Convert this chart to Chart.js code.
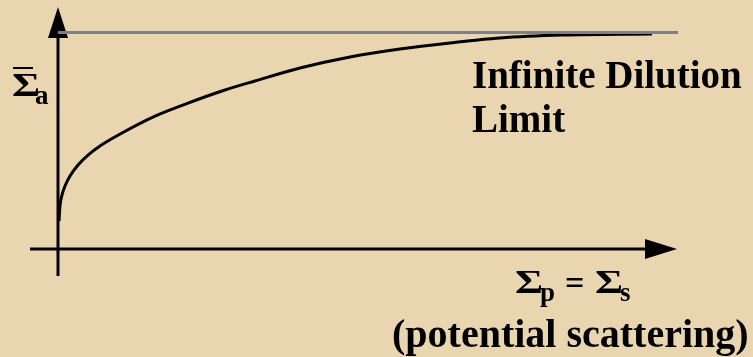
<!DOCTYPE html>
<html>
<head>
<meta charset="utf-8">
<script src="https://cdn.jsdelivr.net/npm/chart.js@4.4.0/dist/chart.umd.min.js"></script>
<style>
  html, body { margin: 0; padding: 0; background: #e9d6b0; }
  canvas { display: block; }
</style>
</head>
<body>
<canvas id="chart" width="753" height="357"></canvas>
<script>
// potential scattering (x) vs effective absorption (y)
const sigmaP = [0.016, 0.032, 0.065, 0.113, 0.194, 0.323, 0.484, 0.677, 1.032, 1.565, 2.097, 2.645, 3.177, 3.903, 4.710, 5.516, 6.323, 7.129, 8.145, 9.581];
const sigmaA = [0.129, 0.199, 0.250, 0.291, 0.337, 0.388, 0.434, 0.476, 0.536, 0.614, 0.674, 0.730, 0.776, 0.836, 0.887, 0.924, 0.952, 0.975, 0.988, 0.993];

// infinite dilution limit
const limitX = [0, 10];
const limitY = [1, 1];

const BG = '#e9d6b0';
const FONT = '"Liberation Serif", "Times New Roman", serif';

function toPoints(xs, ys) {
  return xs.map((x, i) => ({ x: x, y: ys[i] }));
}

// the Sigma of the original is wider than Liberation's, stretch it a bit
function wideText(ctx, text, x, y, sx) {
  ctx.save();
  ctx.translate(x, y);
  ctx.scale(sx, 1);
  ctx.fillText(text, 0, 0);
  ctx.restore();
}

const background = {
  id: 'background',
  beforeDraw(chart) {
    const ctx = chart.ctx;
    ctx.save();
    ctx.fillStyle = BG;
    ctx.fillRect(0, 0, chart.width, chart.height);
    ctx.restore();
  }
};

// axis lines with arrow heads, placed on the scales' zero
const arrowAxes = {
  id: 'arrowAxes',
  beforeDatasetsDraw(chart) {
    const ctx = chart.ctx;
    const x0 = chart.scales.x.getPixelForValue(0);
    const y0 = chart.scales.y.getPixelForValue(0);
    ctx.save();
    ctx.strokeStyle = '#000';
    ctx.fillStyle = '#000';
    ctx.lineWidth = 3;

    // vertical
    ctx.beginPath();
    ctx.moveTo(x0, y0 + 27);
    ctx.lineTo(x0, 30);
    ctx.stroke();
    ctx.beginPath();
    ctx.moveTo(x0, 7);
    ctx.lineTo(x0 - 10, 38);
    ctx.lineTo(x0 + 10, 38);
    ctx.closePath();
    ctx.fill();

    // horizontal
    ctx.beginPath();
    ctx.moveTo(30, y0);
    ctx.lineTo(650, y0);
    ctx.stroke();
    ctx.beginPath();
    ctx.moveTo(677, y0);
    ctx.lineTo(645, y0 - 10);
    ctx.lineTo(645, y0 + 10);
    ctx.closePath();
    ctx.fill();
    ctx.restore();
  }
};

const labels = {
  id: 'labels',
  afterDraw(chart) {
    const ctx = chart.ctx;
    ctx.save();
    ctx.fillStyle = '#000';
    ctx.textAlign = 'left';
    ctx.textBaseline = 'alphabetic';

    // y label: Sigma bar, subscript a
    ctx.font = 'bold 33px ' + FONT;
    wideText(ctx, 'Σ', 12, 96, 1.3);
    ctx.fillRect(13, 67, 20, 2);
    ctx.font = 'bold 27px ' + FONT;
    ctx.fillText('a', 35, 104);

    // x label
    ctx.font = 'bold 33px ' + FONT;
    wideText(ctx, 'Σ', 515, 293, 1.3);
    wideText(ctx, 'Σ', 595, 293, 1.3);
    ctx.font = 'bold 34px ' + FONT;
    ctx.fillText('=', 565, 294);
    ctx.font = 'bold 27px ' + FONT;
    ctx.fillText('p', 540, 301);
    ctx.fillText('s', 620, 301);

    ctx.font = 'bold 39px ' + FONT;
    ctx.fillText('Infinite Dilution', 472, 88);
    ctx.fillText('Limit', 472, 132);
    ctx.font = 'bold 40px ' + FONT;
    ctx.fillText('(potential scattering)', 392, 347);
    ctx.restore();
  }
};

new Chart(document.getElementById('chart'), {
  type: 'scatter',
  data: {
    datasets: [
      {
        label: 'limit',
        data: toPoints(limitX, limitY),
        showLine: true,
        borderColor: '#808080',
        borderWidth: 3,
        pointRadius: 0,
        borderCapStyle: 'butt'
      },
      {
        label: 'sigma_a',
        data: toPoints(sigmaP, sigmaA),
        showLine: true,
        borderColor: '#000',
        borderWidth: 3,
        pointRadius: 0,
        cubicInterpolationMode: 'monotone'
      }
    ]
  },
  options: {
    responsive: false,
    animation: false,
    devicePixelRatio: 1,
    layout: { padding: 0 },
    plugins: {
      legend: { display: false },
      tooltip: { enabled: false }
    },
    scales: {
      x: { type: 'linear', display: false, min: -58 / 62, max: 695 / 62 },
      y: { type: 'linear', display: false, min: -108 / 216.5, max: 249 / 216.5 }
    }
  },
  plugins: [background, arrowAxes, labels]
});
</script>
</body>
</html>
